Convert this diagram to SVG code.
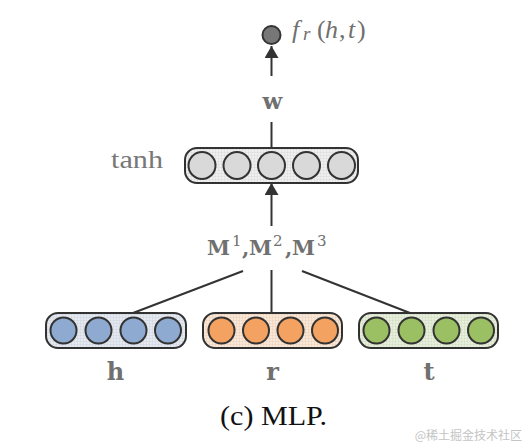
<svg xmlns="http://www.w3.org/2000/svg" width="526" height="446" viewBox="0 0 526 446">
<style>
.box{stroke:#333;stroke-width:2}
.c{stroke:#333;stroke-width:2}
.ln{stroke:#333;stroke-width:2;fill:none}
.lbl{font-family:"DejaVu Serif",serif;font-weight:bold;fill:#707070}
.sup{font-family:"DejaVu Serif",serif;font-weight:normal;fill:#707070}
.it{font-family:"Liberation Serif",serif;font-style:italic;fill:#707070}
.rm{font-family:"Liberation Serif",serif;fill:#707070}
</style>
<defs>
<marker id="ah" viewBox="0 0 12 14" refX="12" refY="7" markerWidth="12" markerHeight="14" markerUnits="userSpaceOnUse" orient="auto">
<path d="M0,0 L12,7 L0,14 Z" fill="#333"/>
</marker>
<pattern id="grid" width="3" height="3" patternUnits="userSpaceOnUse">
<path d="M3,0 V3 M0,3 H3" stroke="#000" stroke-opacity="0.08" stroke-width="1"/>
</pattern>
</defs>
<rect width="526" height="446" fill="#fff"/>

<g id="connectors">
<line class="ln" x1="271.5" y1="76" x2="271.5" y2="46" marker-end="url(#ah)"/>
<line class="ln" x1="271.5" y1="122" x2="271.5" y2="148"/>
<line class="ln" x1="271.5" y1="226" x2="271.5" y2="183" marker-end="url(#ah)"/>
<line class="ln" x1="243" y1="271" x2="133" y2="313"/>
<line class="ln" x1="271.5" y1="270" x2="271.5" y2="313"/>
<line class="ln" x1="302" y1="271" x2="410" y2="313"/>
</g>

<g id="output">
<circle cx="271.5" cy="35" r="9" fill="#777" stroke="#333" stroke-width="2"/>
<text class="it" x="292" y="38" font-size="26">f</text>
<text class="it" x="303" y="40" font-size="19">r</text>
<text class="rm" x="317" y="38" font-size="26">(</text>
<text class="it" x="325" y="38" font-size="26">h</text>
<text class="rm" x="339" y="38" font-size="26">,</text>
<text class="it" x="348" y="38" font-size="26">t</text>
<text class="rm" x="357" y="38" font-size="26">)</text>
</g>

<g id="w-label">
<text class="lbl" x="272.5" y="109" font-size="23" text-anchor="middle">w</text>
</g>

<g id="tanh-layer">
<rect class="box" x="185" y="148" width="173" height="35" rx="12" fill="#efefef"/>
<rect x="185" y="148" width="173" height="35" rx="12" fill="url(#grid)"/>
<circle class="c" cx="202" cy="165.5" r="13.5" fill="#d9d9d9"/>
<circle class="c" cx="237" cy="165.5" r="13.5" fill="#d9d9d9"/>
<circle class="c" cx="271.5" cy="165.5" r="13.5" fill="#d9d9d9"/>
<circle class="c" cx="306.5" cy="165.5" r="13.5" fill="#d9d9d9"/>
<circle class="c" cx="341.5" cy="165.5" r="13.5" fill="#d9d9d9"/>
<text x="111" y="168" font-family="Liberation Serif,serif" font-size="26" fill="#777" textLength="52" lengthAdjust="spacingAndGlyphs">tanh</text>
</g>

<g id="m-label">
<text class="lbl" x="207" y="255" font-size="21" textLength="23" lengthAdjust="spacingAndGlyphs">M</text>
<text class="sup" x="232" y="246" font-size="15">1</text>
<text class="lbl" x="242" y="255" font-size="21">,</text>
<text class="lbl" x="249" y="255" font-size="21" textLength="23" lengthAdjust="spacingAndGlyphs">M</text>
<text class="sup" x="273" y="246" font-size="15">2</text>
<text class="lbl" x="285" y="255" font-size="21">,</text>
<text class="lbl" x="292" y="255" font-size="21" textLength="23" lengthAdjust="spacingAndGlyphs">M</text>
<text class="sup" x="317" y="246" font-size="15">3</text>
</g>

<g id="h-vector">
<rect class="box" x="46" y="313" width="140" height="35" rx="12" fill="#e4e9f1"/>
<rect x="46" y="313" width="140" height="35" rx="12" fill="url(#grid)"/>
<circle class="c" cx="63.5" cy="330.5" r="13" fill="#8eaad0"/>
<circle class="c" cx="98.5" cy="330.5" r="13" fill="#8eaad0"/>
<circle class="c" cx="133.5" cy="330.5" r="13" fill="#8eaad0"/>
<circle class="c" cx="168" cy="330.5" r="13" fill="#8eaad0"/>
<text class="lbl" x="115.5" y="380" font-size="24" text-anchor="middle">h</text>
</g>

<g id="r-vector">
<rect class="box" x="203" y="313" width="139" height="35" rx="12" fill="#fce6d4"/>
<rect x="203" y="313" width="139" height="35" rx="12" fill="url(#grid)"/>
<circle class="c" cx="221.5" cy="330.5" r="13" fill="#f4a261"/>
<circle class="c" cx="256" cy="330.5" r="13" fill="#f4a261"/>
<circle class="c" cx="290.5" cy="330.5" r="13" fill="#f4a261"/>
<circle class="c" cx="325" cy="330.5" r="13" fill="#f4a261"/>
<text class="lbl" x="272.5" y="380" font-size="24" text-anchor="middle">r</text>
</g>

<g id="t-vector">
<rect class="box" x="359" y="313" width="139" height="35" rx="12" fill="#e6efd9"/>
<rect x="359" y="313" width="139" height="35" rx="12" fill="url(#grid)"/>
<circle class="c" cx="376.5" cy="330.5" r="13" fill="#9bc063"/>
<circle class="c" cx="411.5" cy="330.5" r="13" fill="#9bc063"/>
<circle class="c" cx="446.5" cy="330.5" r="13" fill="#9bc063"/>
<circle class="c" cx="481" cy="330.5" r="13" fill="#9bc063"/>
<text class="lbl" x="429" y="380" font-size="24" text-anchor="middle">t</text>
</g>

<text x="220" y="425" font-family="Liberation Serif,serif" font-size="28" fill="#111" textLength="107" lengthAdjust="spacingAndGlyphs">(c) MLP.</text>
<text x="522" y="440" font-family="Noto Sans CJK SC,sans-serif" font-size="12" fill="#c4c4c4" text-anchor="end">@稀土掘金技术社区</text>
</svg>
